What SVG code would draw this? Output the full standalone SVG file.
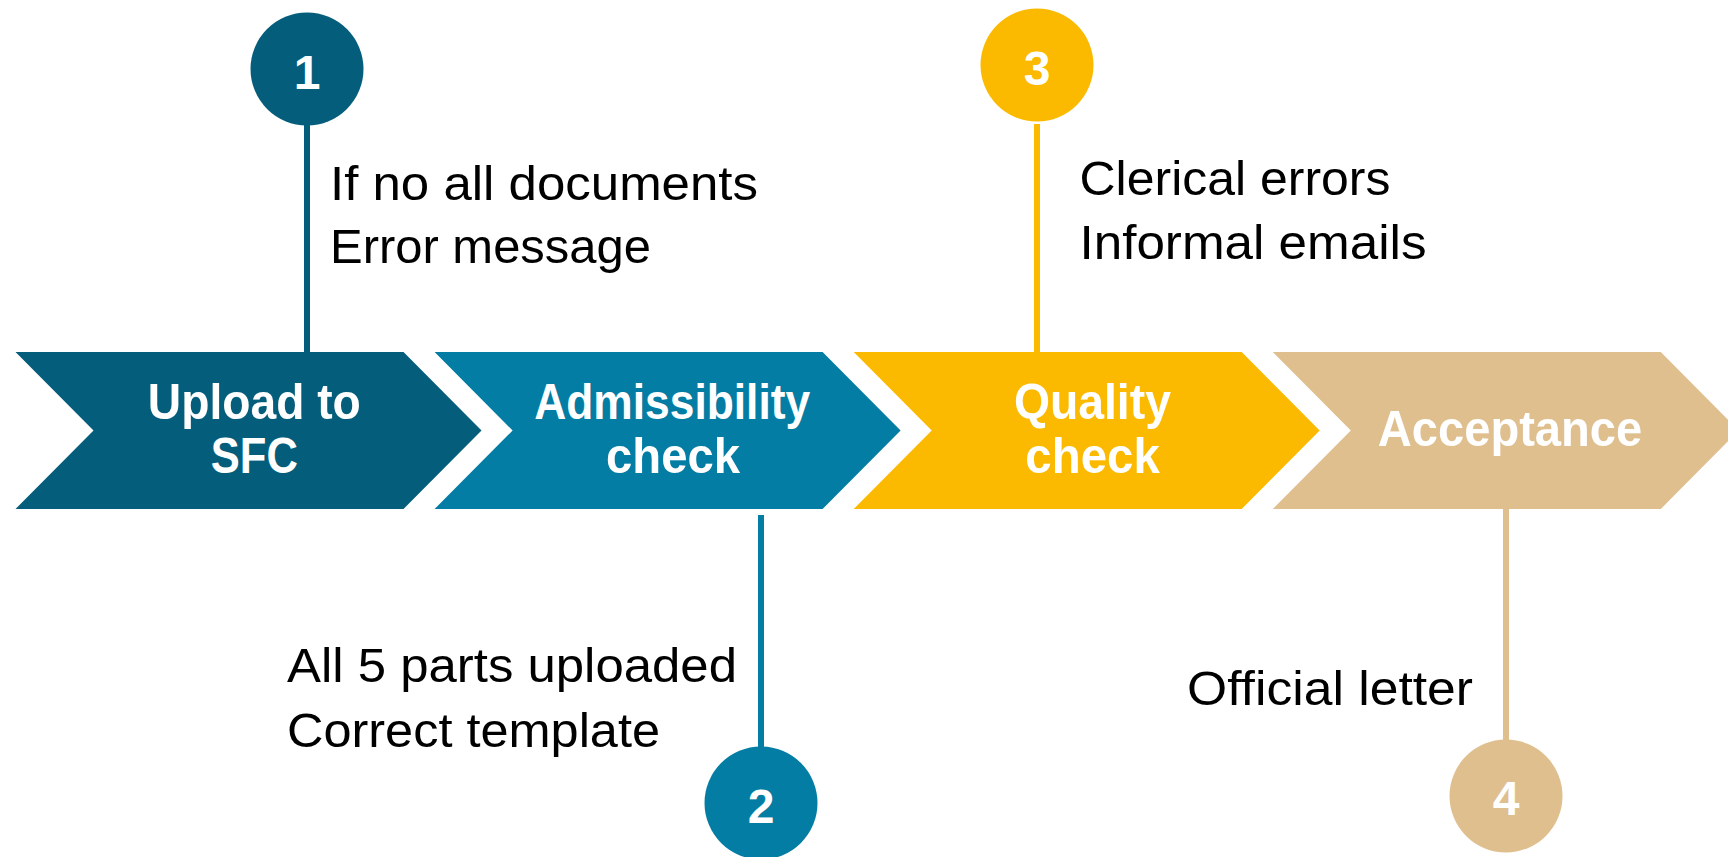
<svg xmlns="http://www.w3.org/2000/svg" width="1728" height="857" viewBox="0 0 1728 857">
<style>
.c1{fill:#045E7B}.c2{fill:#047DA4}.c3{fill:#FBBA00}.c4{fill:#E0BF8E}
.s1{stroke:#045E7B}.s2{stroke:#047DA4}.s3{stroke:#FBBA00}.s4{stroke:#E0BF8E}
.stem{stroke-width:6;fill:none}
.lbl{font-family:"Liberation Sans",Arial,sans-serif;font-weight:bold;font-size:50px;fill:#FFFFFF;text-anchor:middle}
.num{font-family:"Liberation Sans",Arial,sans-serif;font-weight:bold;font-size:48px;fill:#FFFFFF;text-anchor:middle}
.txt{font-family:"Liberation Sans",Arial,sans-serif;font-size:49px;fill:#000000}
</style>
<rect width="1728" height="857" fill="#FFFFFF"/>
<g id="connectors">
<line class="stem s1" x1="307" y1="120" x2="307" y2="352"/>
<line class="stem s2" x1="761" y1="515" x2="761" y2="750"/>
<line class="stem s3" x1="1037" y1="124" x2="1037" y2="352"/>
<line class="stem s4" x1="1506" y1="509" x2="1506" y2="745"/>
</g>
<g id="step1">
<polygon class="c1" points="15.5,352 403.5,352 481.5,430.5 403.5,509 15.5,509 93.5,430.5"/>
<text class="lbl" x="254.3" y="419" textLength="213" lengthAdjust="spacingAndGlyphs">Upload to</text>
<text class="lbl" x="254.3" y="472.6" textLength="87" lengthAdjust="spacingAndGlyphs">SFC</text>
</g>
<g id="step2">
<polygon class="c2" points="434.6,352 822.6,352 900.6,430.5 822.6,509 434.6,509 512.6,430.5"/>
<text class="lbl" x="672.2" y="419" textLength="276" lengthAdjust="spacingAndGlyphs">Admissibility</text>
<text class="lbl" x="673" y="472.6" textLength="134" lengthAdjust="spacingAndGlyphs">check</text>
</g>
<g id="step3">
<polygon class="c3" points="853.7,352 1241.7,352 1319.7,430.5 1241.7,509 853.7,509 931.7,430.5"/>
<text class="lbl" x="1092.4" y="419" textLength="157" lengthAdjust="spacingAndGlyphs">Quality</text>
<text class="lbl" x="1092.6" y="472.6" textLength="134.5" lengthAdjust="spacingAndGlyphs">check</text>
</g>
<g id="step4">
<polygon class="c4" points="1272.8,352 1660.8,352 1738.8,430.5 1660.8,509 1272.8,509 1350.8,430.5"/>
<text class="lbl" x="1510" y="445.6" textLength="264.5" lengthAdjust="spacingAndGlyphs">Acceptance</text>
</g>
<g id="marker1">
<circle class="c1" cx="307" cy="69" r="56.5"/>
<text class="num" x="307" y="88.6">1</text>
</g>
<g id="marker2">
<circle class="c2" cx="761" cy="803" r="56.5"/>
<text class="num" x="761" y="822.7">2</text>
</g>
<g id="marker3">
<circle class="c3" cx="1037" cy="65" r="56.5"/>
<text class="num" x="1037" y="84.5">3</text>
</g>
<g id="marker4">
<circle class="c4" cx="1506" cy="796" r="56.5"/>
<text class="num" x="1506" y="815">4</text>
</g>
<g id="note1">
<text class="txt" x="330" y="199.5" textLength="428" lengthAdjust="spacingAndGlyphs">If no all documents</text>
<text class="txt" x="330" y="262.7" textLength="321" lengthAdjust="spacingAndGlyphs">Error message</text>
</g>
<g id="note2">
<text class="txt" x="287" y="682.3" textLength="450" lengthAdjust="spacingAndGlyphs">All 5 parts uploaded</text>
<text class="txt" x="287" y="746.7" textLength="373" lengthAdjust="spacingAndGlyphs">Correct template</text>
</g>
<g id="note3">
<text class="txt" x="1079.5" y="195" textLength="311" lengthAdjust="spacingAndGlyphs">Clerical errors</text>
<text class="txt" x="1079.5" y="259.3" textLength="347" lengthAdjust="spacingAndGlyphs">Informal emails</text>
</g>
<g id="note4">
<text class="txt" x="1187" y="705" textLength="286" lengthAdjust="spacingAndGlyphs">Official letter</text>
</g>
</svg>
